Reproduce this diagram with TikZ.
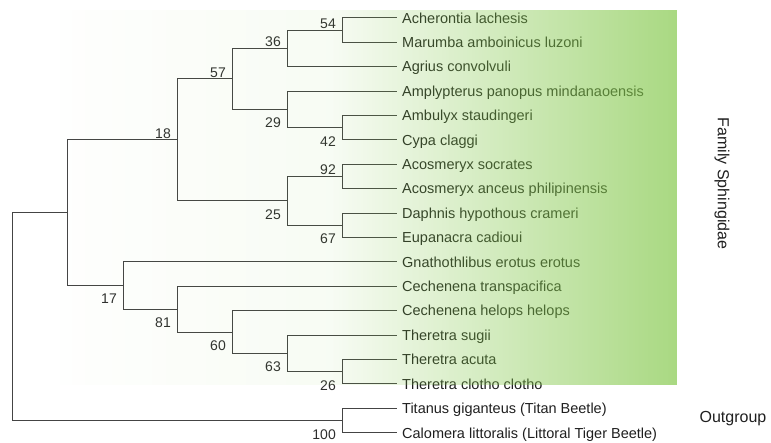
\documentclass[tikz,border=0pt]{standalone}
\usepackage{fontspec}
\setmainfont{Liberation Sans}
\usetikzlibrary{fadings}
\definecolor{sphgreen}{HTML}{84C84C}
\definecolor{branchgray}{HTML}{444444}
\pgfdeclarehorizontalshading{sphshade}{100bp}{color(0bp)=(black!99); color(25bp)=(black!99);
  color(47bp)=(black!91); color(75bp)=(black!0); color(100bp)=(black!0)}
\tikzfading[name=sphfade, shading=sphshade]

\begin{document}
\begin{tikzpicture}[
  x=1pt, y=-1pt,
  branch/.style={draw=branchgray, line width=1pt},
  leaf/.style={anchor=west, inner xsep=5pt, inner ysep=0pt, text height=10.4pt, text depth=0pt, font=\fontsize{14.5}{16}\selectfont, text=black!88},
  boot/.style={inner sep=0pt, font=\fontsize{14}{16}\selectfont, text=black!82},
  bootup/.style={boot, anchor=south east, xshift=-6pt, yshift=1.5pt},
  bootdown/.style={boot, anchor=north east, xshift=-6pt, yshift=-8.5pt},
  group/.style={font=\fontsize{16}{18}\selectfont, text=black!88}
]
\useasboundingbox (0,0) rectangle (771,443);
% taxa
\foreach \taxon [count=\i] in {Acherontia lachesis, Marumba amboinicus luzoni, Agrius convolvuli,
  Amplypterus panopus mindanaoensis, Ambulyx staudingeri, Cypa claggi, Acosmeryx socrates,
  Acosmeryx anceus philipinensis, Daphnis hypothous crameri, Eupanacra cadioui,
  Gnathothlibus erotus erotus, Cechenena transpacifica, Cechenena helops helops,
  Theretra sugii, Theretra acuta, Theretra clotho clotho, Titanus giganteus (Titan Beetle),
  Calomera littoralis (Littoral Tiger Beetle)}
  \node[leaf] (l\i) at (397,{18+24.4*(\i-1)}) {\taxon};
% internal nodes
\coordinate (n54) at (342,30.2);
\coordinate (n36) at (287,48.5);
\coordinate (n42) at (342,127.8);
\coordinate (n29) at (287,109.5);
\coordinate (n57) at (232,79);
\coordinate (n92) at (342,176.6);
\coordinate (n67) at (342,225.4);
\coordinate (n25) at (287,201);
\coordinate (n18) at (177,140);
\coordinate (n26) at (342,371.8);
\coordinate (n63) at (287,353.5);
\coordinate (n60) at (232,332.2);
\coordinate (n81) at (177,309.3);
\coordinate (n17) at (123,285.6);
\coordinate (nS) at (67,212.8);
\coordinate (n100) at (342,420.6);
\coordinate (nR) at (12,316.7);
% branches
\foreach \p/\c in {n54/l1.west, n54/l2.west, n36/n54, n36/l3.west, n42/l5.west, n42/l6.west,
  n29/l4.west, n29/n42, n57/n36, n57/n29, n92/l7.west, n92/l8.west, n67/l9.west, n67/l10.west,
  n25/n92, n25/n67, n18/n57, n18/n25, n26/l15.west, n26/l16.west, n63/l14.west, n63/n26,
  n60/l13.west, n60/n63, n81/l12.west, n81/n60, n17/l11.west, n17/n81, nS/n18, nS/n17,
  n100/l17.west, n100/l18.west, nR/nS, nR/n100}
  \draw[branch] (\p) |- (\c);
% bootstrap values
\foreach \v in {54,36,57,18,92}
  \node[bootup] (b\v) at (n\v) {\v};
\foreach \v in {29,42,25,67,17,81,60,63,26,100}
  \node[bootdown] (b\v) at (n\v) {\v};
% groups
\fill[sphgreen, path fading=sphfade, fit fading=true, fill opacity=0.7] (60,10) rectangle (677,385);
\node[group, rotate=-90] (fam) at (722,183.5) {Family Sphingidae};
\node[group] (out) at (733,419) {Outgroup};
\end{tikzpicture}
\end{document}
